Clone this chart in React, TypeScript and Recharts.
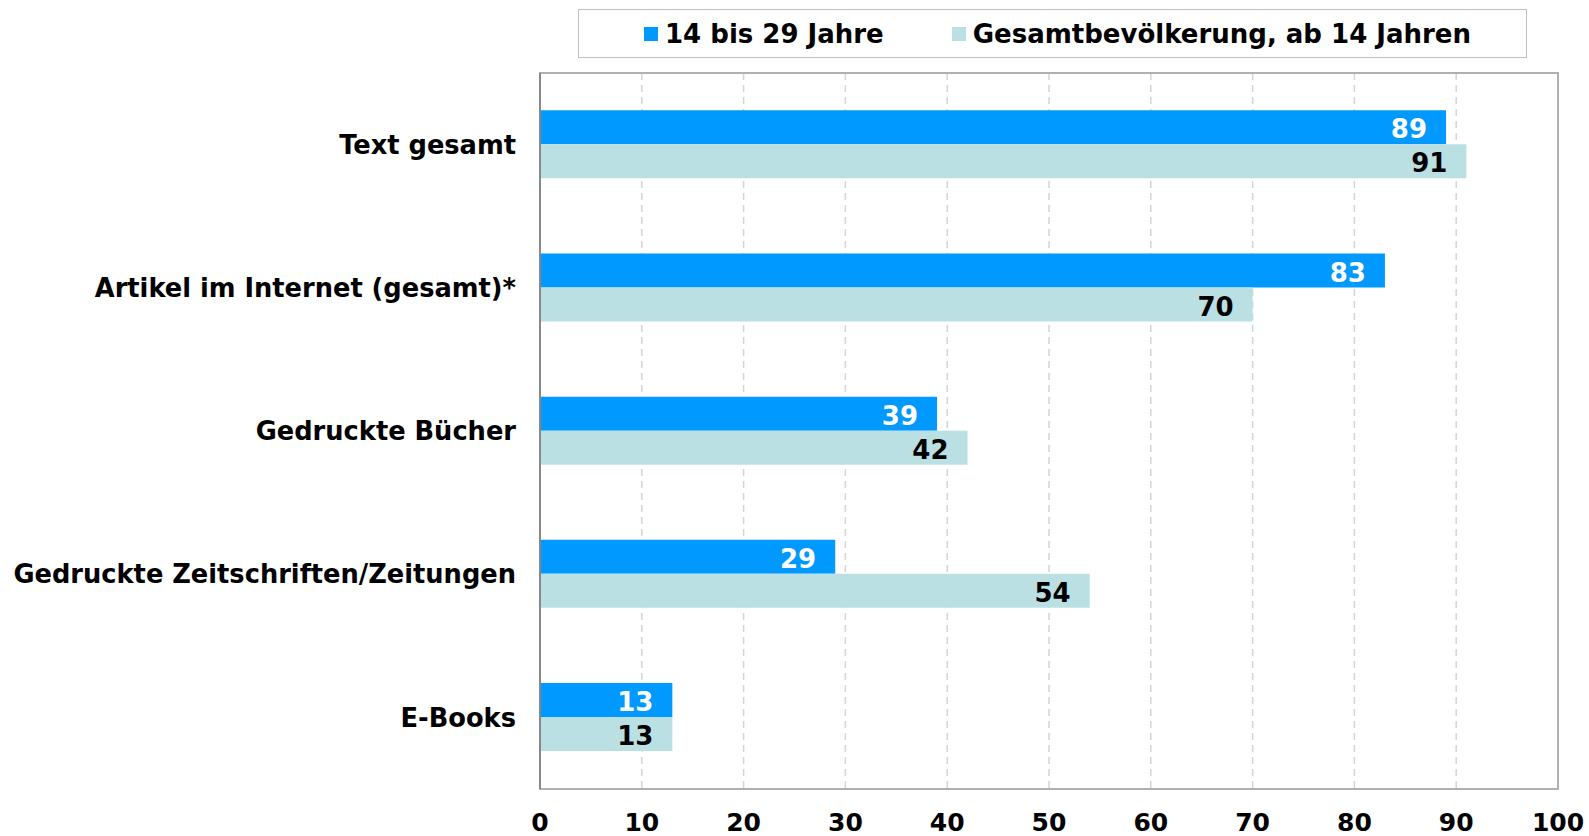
import React from 'react';
import { BarChart, Bar, XAxis, YAxis, CartesianGrid, LabelList, ReferenceArea } from 'recharts';

const categories = [
  'Text gesamt',
  'Artikel im Internet (gesamt)*',
  'Gedruckte Bücher',
  'Gedruckte Zeitschriften/Zeitungen',
  'E-Books',
];
const young = [89, 83, 39, 29, 13];
const total = [91, 70, 42, 54, 13];
const xTicks = [0, 10, 20, 30, 40, 50, 60, 70, 80, 90, 100];

const SERIES_YOUNG = '14 bis 29 Jahre';
const SERIES_TOTAL = 'Gesamtbevölkerung, ab 14 Jahren';

const BLUE = '#0099ff';
const TEAL = '#bbe0e3';
const FONT = '"DejaVu Sans", Verdana, sans-serif';

const data = categories.map((name, i) => ({ name, young: young[i], total: total[i] }));

// legend drawn as a plain box so it doesn't eat into the plot area
const LegendBox = () => (
  <div
    style={{
      position: 'absolute',
      left: 578,
      top: 9,
      boxSizing: 'border-box',
      width: 949,
      height: 49,
      paddingLeft: 10,
      border: '1px solid #bfbfbf',
      display: 'flex',
      alignItems: 'center',
      justifyContent: 'center',
      gap: 68,
      fontFamily: FONT,
      fontWeight: 'bold',
      fontSize: 26,
      color: '#000',
      background: '#fff',
    }}
  >
    {[
      { label: SERIES_YOUNG, color: BLUE },
      { label: SERIES_TOTAL, color: TEAL },
    ].map(item => (
      <div key={item.label} style={{ display: 'flex', alignItems: 'center' }}>
        <span style={{ width: 14, height: 14, background: item.color, marginRight: 7, display: 'inline-block' }} />
        <span>{item.label}</span>
      </div>
    ))}
  </div>
);

const App: React.FC = () => {
  return (
    <div style={{ position: 'absolute', left: 0, top: 0, width: 1589, height: 836, background: '#fff' }}>
      <BarChart
        width={1589}
        height={836}
        data={data}
        layout="vertical"
        margin={{ top: 73, right: 31, bottom: 0, left: 0 }}
        barCategoryGap="26%"
        barGap={0}
      >
        <CartesianGrid horizontal={false} vertical stroke="#d4d4d4" strokeDasharray="7 5" strokeWidth={1.5} />
        <ReferenceArea x1={0} x2={100} fill="none" stroke="#b0b0b0" strokeWidth={2} />
        <XAxis
          type="number"
          domain={[0, 100]}
          ticks={xTicks}
          height={47}
          tickLine={false}
          tickSize={0}
          tickMargin={24}
          axisLine={{ stroke: '#b0b0b0', strokeWidth: 2 }}
          tick={{ fill: '#000', fontSize: 25, fontWeight: 'bold', fontFamily: FONT }}
          interval={0}
        />
        <YAxis
          type="category"
          dataKey="name"
          width={540}
          tickLine={false}
          tickSize={0}
          tickMargin={24}
          axisLine={{ stroke: '#888888', strokeWidth: 2 }}
          tick={{ fill: '#000', fontSize: 25.7, fontWeight: 'bold', fontFamily: FONT }}
          interval={0}
        />
        <Bar dataKey="young" name={SERIES_YOUNG} fill={BLUE} isAnimationActive={false}>
          <LabelList
            dataKey="young"
            position="insideRight"
            offset={19}
            dy={2}
            fill="#fff"
            style={{ fontSize: 26, fontWeight: 'bold', fontFamily: FONT }}
          />
        </Bar>
        <Bar dataKey="total" name={SERIES_TOTAL} fill={TEAL} isAnimationActive={false}>
          <LabelList
            dataKey="total"
            position="insideRight"
            offset={19}
            dy={2}
            fill="#000"
            style={{ fontSize: 26, fontWeight: 'bold', fontFamily: FONT }}
          />
        </Bar>
      </BarChart>
      <LegendBox />
    </div>
  );
};

export default App;
